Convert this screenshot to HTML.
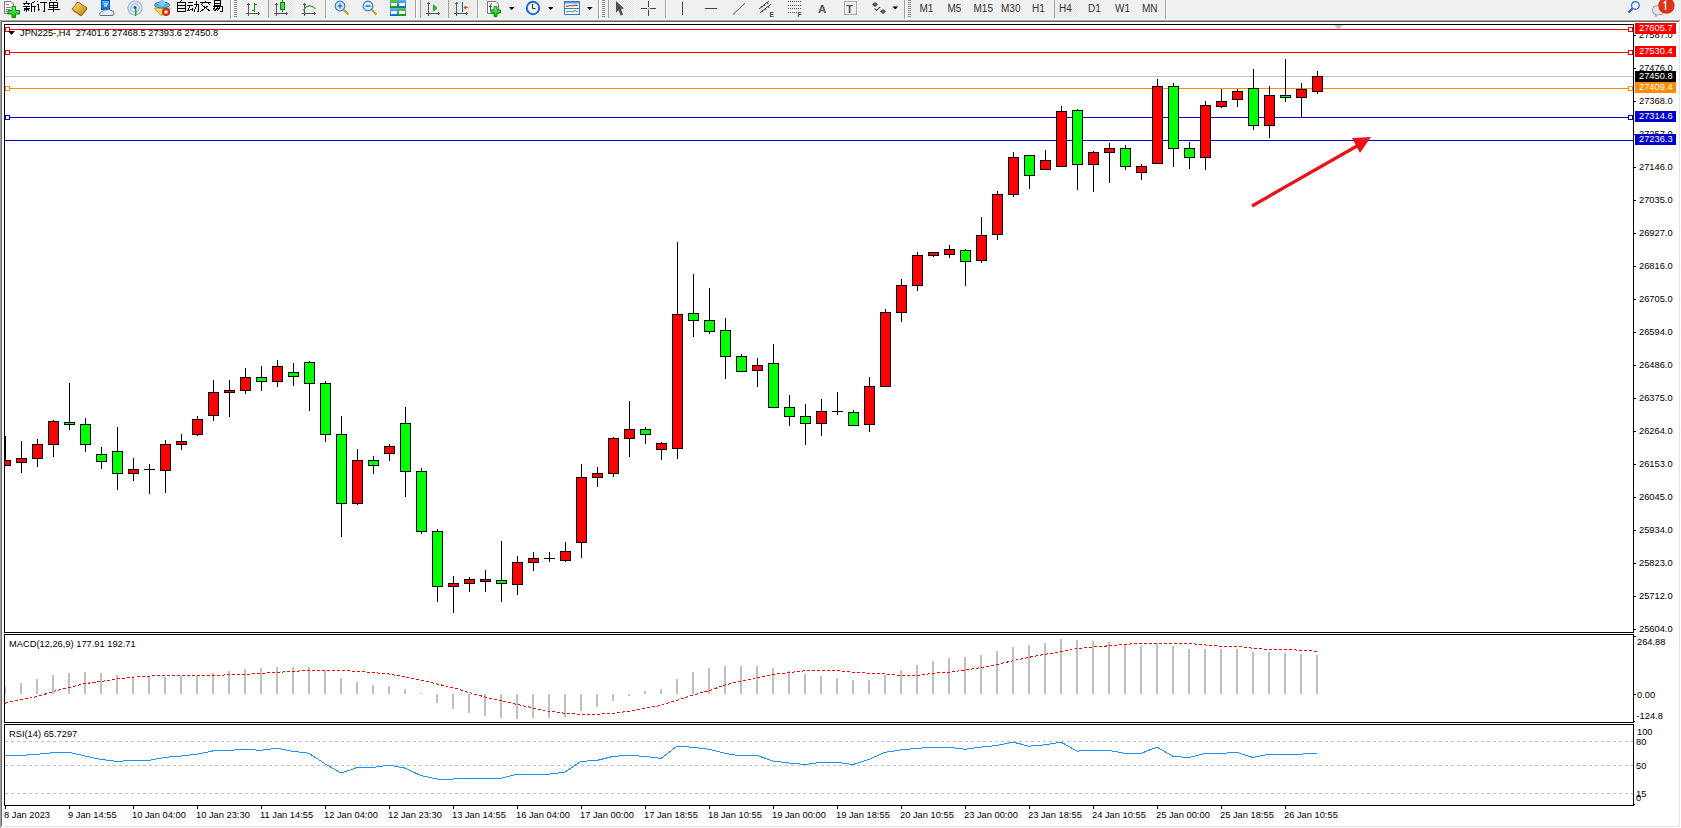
<!DOCTYPE html>
<html><head><meta charset="utf-8"><title>JPN225 H4</title>
<style>
html,body{margin:0;padding:0;}
body{width:1681px;height:828px;overflow:hidden;background:#f0f0f0;position:relative;font-family:"Liberation Sans",sans-serif;}
svg{position:absolute;left:0;top:0;}
.t{font-family:"Liberation Sans",sans-serif;font-size:9.7px;fill:#000;white-space:pre;}
.tb{font-family:"Liberation Sans",sans-serif;font-size:10px;fill:#202020;}
</style></head><body>

<svg width="1681" height="828" viewBox="0 0 1681 828">
<g shape-rendering="crispEdges">
<rect x="0" y="19" width="1681" height="809" fill="#ffffff"/>
<rect x="0" y="19" width="1681" height="1" fill="#f8f8f8"/>
<rect x="0" y="20" width="1680" height="1" fill="#a0a0a0"/>
<rect x="1" y="21" width="1679" height="1" fill="#696969"/>
<rect x="0" y="20" width="1" height="808" fill="#a0a0a0"/>
<rect x="1" y="21" width="1" height="806" fill="#696969"/>
<rect x="1679" y="21" width="1" height="806" fill="#e3e3e3"/>
<rect x="1" y="826" width="1679" height="1" fill="#e3e3e3"/>
<defs><clipPath id="cm"><rect x="5" y="25" width="1628" height="607"/></clipPath><clipPath id="cmacd"><rect x="5" y="635" width="1628" height="87"/></clipPath><clipPath id="crsi"><rect x="5" y="725" width="1628" height="80"/></clipPath></defs>
<g clip-path="url(#cm)">
</g>
</g>
<polygon points="1334,25 1343,25 1339,29 1338,29" fill="#c0c0c0"/>
<g shape-rendering="crispEdges" clip-path="url(#cm)">
<rect x="5" y="76" width="1628" height="1" fill="#c0c0c0"/>
<rect x="5" y="29" width="1628" height="1" fill="#ff0000"/>
<rect x="5.5" y="27.5" width="4" height="4" fill="#fff" stroke="#ff0000" stroke-width="1"/>
<rect x="1628.5" y="27.5" width="4" height="4" fill="#fff" stroke="#ff0000" stroke-width="1"/>
<rect x="5" y="52" width="1628" height="1" fill="#ff0000"/>
<rect x="5.5" y="50.5" width="4" height="4" fill="#fff" stroke="#ff0000" stroke-width="1"/>
<rect x="1628.5" y="50.5" width="4" height="4" fill="#fff" stroke="#ff0000" stroke-width="1"/>
<rect x="5" y="88" width="1628" height="1" fill="#ff8c00"/>
<rect x="5.5" y="86.5" width="4" height="4" fill="#fff" stroke="#ff8c00" stroke-width="1"/>
<rect x="1628.5" y="86.5" width="4" height="4" fill="#fff" stroke="#ff8c00" stroke-width="1"/>
<rect x="5" y="117" width="1628" height="1" fill="#0000cd"/>
<rect x="5.5" y="115.5" width="4" height="4" fill="#fff" stroke="#0000cd" stroke-width="1"/>
<rect x="1628.5" y="115.5" width="4" height="4" fill="#fff" stroke="#0000cd" stroke-width="1"/>
<rect x="5" y="140" width="1628" height="1" fill="#0000cd"/>
<rect x="5" y="436" width="1" height="24" fill="#000"/>
<rect x="0" y="460" width="11" height="6" fill="#000"/>
<rect x="1" y="461" width="9" height="4" fill="#ff0000"/>
<rect x="21" y="441" width="1" height="17" fill="#000"/>
<rect x="21" y="463" width="1" height="10" fill="#000"/>
<rect x="16" y="458" width="11" height="5" fill="#000"/>
<rect x="17" y="459" width="9" height="3" fill="#ff0000"/>
<rect x="37" y="439" width="1" height="5" fill="#000"/>
<rect x="37" y="459" width="1" height="8" fill="#000"/>
<rect x="32" y="444" width="11" height="15" fill="#000"/>
<rect x="33" y="445" width="9" height="13" fill="#ff0000"/>
<rect x="53" y="420" width="1" height="1" fill="#000"/>
<rect x="53" y="445" width="1" height="12" fill="#000"/>
<rect x="48" y="421" width="11" height="24" fill="#000"/>
<rect x="49" y="422" width="9" height="22" fill="#ff0000"/>
<rect x="69" y="383" width="1" height="39" fill="#000"/>
<rect x="69" y="425" width="1" height="5" fill="#000"/>
<rect x="64" y="422" width="11" height="3" fill="#000"/>
<rect x="65" y="423" width="9" height="1" fill="#00ff00"/>
<rect x="85" y="418" width="1" height="6" fill="#000"/>
<rect x="85" y="445" width="1" height="7" fill="#000"/>
<rect x="80" y="424" width="11" height="21" fill="#000"/>
<rect x="81" y="425" width="9" height="19" fill="#00ff00"/>
<rect x="101" y="447" width="1" height="7" fill="#000"/>
<rect x="101" y="462" width="1" height="7" fill="#000"/>
<rect x="96" y="454" width="11" height="8" fill="#000"/>
<rect x="97" y="455" width="9" height="6" fill="#00ff00"/>
<rect x="117" y="427" width="1" height="24" fill="#000"/>
<rect x="117" y="474" width="1" height="16" fill="#000"/>
<rect x="112" y="451" width="11" height="23" fill="#000"/>
<rect x="113" y="452" width="9" height="21" fill="#00ff00"/>
<rect x="133" y="458" width="1" height="11" fill="#000"/>
<rect x="133" y="474" width="1" height="7" fill="#000"/>
<rect x="128" y="469" width="11" height="5" fill="#000"/>
<rect x="129" y="470" width="9" height="3" fill="#ff0000"/>
<rect x="149" y="464" width="1" height="5" fill="#000"/>
<rect x="149" y="469" width="1" height="25" fill="#000"/>
<rect x="144" y="469" width="11" height="1" fill="#000"/>
<rect x="165" y="440" width="1" height="4" fill="#000"/>
<rect x="165" y="471" width="1" height="22" fill="#000"/>
<rect x="160" y="444" width="11" height="27" fill="#000"/>
<rect x="161" y="445" width="9" height="25" fill="#ff0000"/>
<rect x="181" y="434" width="1" height="7" fill="#000"/>
<rect x="181" y="445" width="1" height="5" fill="#000"/>
<rect x="176" y="441" width="11" height="4" fill="#000"/>
<rect x="177" y="442" width="9" height="2" fill="#ff0000"/>
<rect x="197" y="416" width="1" height="3" fill="#000"/>
<rect x="197" y="435" width="1" height="1" fill="#000"/>
<rect x="192" y="419" width="11" height="16" fill="#000"/>
<rect x="193" y="420" width="9" height="14" fill="#ff0000"/>
<rect x="213" y="380" width="1" height="12" fill="#000"/>
<rect x="213" y="416" width="1" height="5" fill="#000"/>
<rect x="208" y="392" width="11" height="24" fill="#000"/>
<rect x="209" y="393" width="9" height="22" fill="#ff0000"/>
<rect x="229" y="380" width="1" height="10" fill="#000"/>
<rect x="229" y="393" width="1" height="24" fill="#000"/>
<rect x="224" y="390" width="11" height="3" fill="#000"/>
<rect x="225" y="391" width="9" height="1" fill="#ff0000"/>
<rect x="245" y="368" width="1" height="9" fill="#000"/>
<rect x="245" y="391" width="1" height="3" fill="#000"/>
<rect x="240" y="377" width="11" height="14" fill="#000"/>
<rect x="241" y="378" width="9" height="12" fill="#ff0000"/>
<rect x="261" y="366" width="1" height="11" fill="#000"/>
<rect x="261" y="382" width="1" height="9" fill="#000"/>
<rect x="256" y="377" width="11" height="5" fill="#000"/>
<rect x="257" y="378" width="9" height="3" fill="#00ff00"/>
<rect x="277" y="360" width="1" height="6" fill="#000"/>
<rect x="277" y="382" width="1" height="5" fill="#000"/>
<rect x="272" y="366" width="11" height="16" fill="#000"/>
<rect x="273" y="367" width="9" height="14" fill="#ff0000"/>
<rect x="293" y="363" width="1" height="9" fill="#000"/>
<rect x="293" y="377" width="1" height="9" fill="#000"/>
<rect x="288" y="372" width="11" height="5" fill="#000"/>
<rect x="289" y="373" width="9" height="3" fill="#00ff00"/>
<rect x="309" y="361" width="1" height="1" fill="#000"/>
<rect x="309" y="384" width="1" height="27" fill="#000"/>
<rect x="304" y="362" width="11" height="22" fill="#000"/>
<rect x="305" y="363" width="9" height="20" fill="#00ff00"/>
<rect x="325" y="381" width="1" height="2" fill="#000"/>
<rect x="325" y="435" width="1" height="7" fill="#000"/>
<rect x="320" y="383" width="11" height="52" fill="#000"/>
<rect x="321" y="384" width="9" height="50" fill="#00ff00"/>
<rect x="341" y="416" width="1" height="18" fill="#000"/>
<rect x="341" y="504" width="1" height="33" fill="#000"/>
<rect x="336" y="434" width="11" height="70" fill="#000"/>
<rect x="337" y="435" width="9" height="68" fill="#00ff00"/>
<rect x="357" y="449" width="1" height="11" fill="#000"/>
<rect x="357" y="504" width="1" height="1" fill="#000"/>
<rect x="352" y="460" width="11" height="44" fill="#000"/>
<rect x="353" y="461" width="9" height="42" fill="#ff0000"/>
<rect x="373" y="456" width="1" height="4" fill="#000"/>
<rect x="373" y="466" width="1" height="8" fill="#000"/>
<rect x="368" y="460" width="11" height="6" fill="#000"/>
<rect x="369" y="461" width="9" height="4" fill="#00ff00"/>
<rect x="389" y="444" width="1" height="2" fill="#000"/>
<rect x="389" y="454" width="1" height="7" fill="#000"/>
<rect x="384" y="446" width="11" height="8" fill="#000"/>
<rect x="385" y="447" width="9" height="6" fill="#ff0000"/>
<rect x="405" y="407" width="1" height="16" fill="#000"/>
<rect x="405" y="472" width="1" height="25" fill="#000"/>
<rect x="400" y="423" width="11" height="49" fill="#000"/>
<rect x="401" y="424" width="9" height="47" fill="#00ff00"/>
<rect x="421" y="468" width="1" height="3" fill="#000"/>
<rect x="421" y="532" width="1" height="2" fill="#000"/>
<rect x="416" y="471" width="11" height="61" fill="#000"/>
<rect x="417" y="472" width="9" height="59" fill="#00ff00"/>
<rect x="437" y="529" width="1" height="2" fill="#000"/>
<rect x="437" y="587" width="1" height="15" fill="#000"/>
<rect x="432" y="531" width="11" height="56" fill="#000"/>
<rect x="433" y="532" width="9" height="54" fill="#00ff00"/>
<rect x="453" y="576" width="1" height="7" fill="#000"/>
<rect x="453" y="587" width="1" height="26" fill="#000"/>
<rect x="448" y="583" width="11" height="4" fill="#000"/>
<rect x="449" y="584" width="9" height="2" fill="#ff0000"/>
<rect x="469" y="577" width="1" height="2" fill="#000"/>
<rect x="469" y="584" width="1" height="8" fill="#000"/>
<rect x="464" y="579" width="11" height="5" fill="#000"/>
<rect x="465" y="580" width="9" height="3" fill="#ff0000"/>
<rect x="485" y="570" width="1" height="9" fill="#000"/>
<rect x="485" y="582" width="1" height="10" fill="#000"/>
<rect x="480" y="579" width="11" height="3" fill="#000"/>
<rect x="481" y="580" width="9" height="1" fill="#ff0000"/>
<rect x="501" y="541" width="1" height="39" fill="#000"/>
<rect x="501" y="584" width="1" height="18" fill="#000"/>
<rect x="496" y="580" width="11" height="4" fill="#000"/>
<rect x="497" y="581" width="9" height="2" fill="#00ff00"/>
<rect x="517" y="556" width="1" height="6" fill="#000"/>
<rect x="517" y="585" width="1" height="10" fill="#000"/>
<rect x="512" y="562" width="11" height="23" fill="#000"/>
<rect x="513" y="563" width="9" height="21" fill="#ff0000"/>
<rect x="533" y="552" width="1" height="6" fill="#000"/>
<rect x="533" y="563" width="1" height="8" fill="#000"/>
<rect x="528" y="558" width="11" height="5" fill="#000"/>
<rect x="529" y="559" width="9" height="3" fill="#ff0000"/>
<rect x="549" y="552" width="1" height="6" fill="#000"/>
<rect x="549" y="558" width="1" height="4" fill="#000"/>
<rect x="544" y="558" width="11" height="1" fill="#000"/>
<rect x="565" y="542" width="1" height="9" fill="#000"/>
<rect x="565" y="561" width="1" height="1" fill="#000"/>
<rect x="560" y="551" width="11" height="10" fill="#000"/>
<rect x="561" y="552" width="9" height="8" fill="#ff0000"/>
<rect x="581" y="464" width="1" height="13" fill="#000"/>
<rect x="581" y="543" width="1" height="15" fill="#000"/>
<rect x="576" y="477" width="11" height="66" fill="#000"/>
<rect x="577" y="478" width="9" height="64" fill="#ff0000"/>
<rect x="597" y="467" width="1" height="6" fill="#000"/>
<rect x="597" y="478" width="1" height="9" fill="#000"/>
<rect x="592" y="473" width="11" height="5" fill="#000"/>
<rect x="593" y="474" width="9" height="3" fill="#ff0000"/>
<rect x="613" y="437" width="1" height="1" fill="#000"/>
<rect x="613" y="474" width="1" height="3" fill="#000"/>
<rect x="608" y="438" width="11" height="36" fill="#000"/>
<rect x="609" y="439" width="9" height="34" fill="#ff0000"/>
<rect x="629" y="401" width="1" height="28" fill="#000"/>
<rect x="629" y="439" width="1" height="18" fill="#000"/>
<rect x="624" y="429" width="11" height="10" fill="#000"/>
<rect x="625" y="430" width="9" height="8" fill="#ff0000"/>
<rect x="645" y="427" width="1" height="2" fill="#000"/>
<rect x="645" y="435" width="1" height="9" fill="#000"/>
<rect x="640" y="429" width="11" height="6" fill="#000"/>
<rect x="641" y="430" width="9" height="4" fill="#00ff00"/>
<rect x="661" y="442" width="1" height="1" fill="#000"/>
<rect x="661" y="450" width="1" height="10" fill="#000"/>
<rect x="656" y="443" width="11" height="7" fill="#000"/>
<rect x="657" y="444" width="9" height="5" fill="#ff0000"/>
<rect x="677" y="242" width="1" height="72" fill="#000"/>
<rect x="677" y="449" width="1" height="10" fill="#000"/>
<rect x="672" y="314" width="11" height="135" fill="#000"/>
<rect x="673" y="315" width="9" height="133" fill="#ff0000"/>
<rect x="693" y="274" width="1" height="39" fill="#000"/>
<rect x="693" y="321" width="1" height="16" fill="#000"/>
<rect x="688" y="313" width="11" height="8" fill="#000"/>
<rect x="689" y="314" width="9" height="6" fill="#00ff00"/>
<rect x="709" y="288" width="1" height="32" fill="#000"/>
<rect x="709" y="332" width="1" height="2" fill="#000"/>
<rect x="704" y="320" width="11" height="12" fill="#000"/>
<rect x="705" y="321" width="9" height="10" fill="#00ff00"/>
<rect x="725" y="318" width="1" height="12" fill="#000"/>
<rect x="725" y="357" width="1" height="22" fill="#000"/>
<rect x="720" y="330" width="11" height="27" fill="#000"/>
<rect x="721" y="331" width="9" height="25" fill="#00ff00"/>
<rect x="741" y="354" width="1" height="2" fill="#000"/>
<rect x="736" y="356" width="11" height="16" fill="#000"/>
<rect x="737" y="357" width="9" height="14" fill="#00ff00"/>
<rect x="757" y="358" width="1" height="7" fill="#000"/>
<rect x="757" y="371" width="1" height="16" fill="#000"/>
<rect x="752" y="365" width="11" height="6" fill="#000"/>
<rect x="753" y="366" width="9" height="4" fill="#ff0000"/>
<rect x="773" y="344" width="1" height="19" fill="#000"/>
<rect x="768" y="363" width="11" height="45" fill="#000"/>
<rect x="769" y="364" width="9" height="43" fill="#00ff00"/>
<rect x="789" y="395" width="1" height="12" fill="#000"/>
<rect x="789" y="417" width="1" height="9" fill="#000"/>
<rect x="784" y="407" width="11" height="10" fill="#000"/>
<rect x="785" y="408" width="9" height="8" fill="#00ff00"/>
<rect x="805" y="404" width="1" height="12" fill="#000"/>
<rect x="805" y="424" width="1" height="21" fill="#000"/>
<rect x="800" y="416" width="11" height="8" fill="#000"/>
<rect x="801" y="417" width="9" height="6" fill="#00ff00"/>
<rect x="821" y="399" width="1" height="12" fill="#000"/>
<rect x="821" y="424" width="1" height="12" fill="#000"/>
<rect x="816" y="411" width="11" height="13" fill="#000"/>
<rect x="817" y="412" width="9" height="11" fill="#ff0000"/>
<rect x="837" y="392" width="1" height="19" fill="#000"/>
<rect x="837" y="411" width="1" height="4" fill="#000"/>
<rect x="832" y="411" width="11" height="1" fill="#000"/>
<rect x="853" y="410" width="1" height="2" fill="#000"/>
<rect x="848" y="412" width="11" height="14" fill="#000"/>
<rect x="849" y="413" width="9" height="12" fill="#00ff00"/>
<rect x="869" y="377" width="1" height="9" fill="#000"/>
<rect x="869" y="425" width="1" height="7" fill="#000"/>
<rect x="864" y="386" width="11" height="39" fill="#000"/>
<rect x="865" y="387" width="9" height="37" fill="#ff0000"/>
<rect x="885" y="309" width="1" height="3" fill="#000"/>
<rect x="880" y="312" width="11" height="75" fill="#000"/>
<rect x="881" y="313" width="9" height="73" fill="#ff0000"/>
<rect x="901" y="279" width="1" height="6" fill="#000"/>
<rect x="901" y="313" width="1" height="9" fill="#000"/>
<rect x="896" y="285" width="11" height="28" fill="#000"/>
<rect x="897" y="286" width="9" height="26" fill="#ff0000"/>
<rect x="917" y="252" width="1" height="3" fill="#000"/>
<rect x="917" y="286" width="1" height="5" fill="#000"/>
<rect x="912" y="255" width="11" height="31" fill="#000"/>
<rect x="913" y="256" width="9" height="29" fill="#ff0000"/>
<rect x="933" y="256" width="1" height="1" fill="#000"/>
<rect x="928" y="252" width="11" height="4" fill="#000"/>
<rect x="929" y="253" width="9" height="2" fill="#ff0000"/>
<rect x="949" y="245" width="1" height="4" fill="#000"/>
<rect x="949" y="255" width="1" height="3" fill="#000"/>
<rect x="944" y="249" width="11" height="6" fill="#000"/>
<rect x="945" y="250" width="9" height="4" fill="#ff0000"/>
<rect x="965" y="249" width="1" height="1" fill="#000"/>
<rect x="965" y="262" width="1" height="24" fill="#000"/>
<rect x="960" y="250" width="11" height="12" fill="#000"/>
<rect x="961" y="251" width="9" height="10" fill="#00ff00"/>
<rect x="981" y="217" width="1" height="18" fill="#000"/>
<rect x="981" y="261" width="1" height="2" fill="#000"/>
<rect x="976" y="235" width="11" height="26" fill="#000"/>
<rect x="977" y="236" width="9" height="24" fill="#ff0000"/>
<rect x="997" y="191" width="1" height="3" fill="#000"/>
<rect x="997" y="235" width="1" height="5" fill="#000"/>
<rect x="992" y="194" width="11" height="41" fill="#000"/>
<rect x="993" y="195" width="9" height="39" fill="#ff0000"/>
<rect x="1013" y="152" width="1" height="5" fill="#000"/>
<rect x="1013" y="195" width="1" height="2" fill="#000"/>
<rect x="1008" y="157" width="11" height="38" fill="#000"/>
<rect x="1009" y="158" width="9" height="36" fill="#ff0000"/>
<rect x="1029" y="176" width="1" height="13" fill="#000"/>
<rect x="1024" y="155" width="11" height="21" fill="#000"/>
<rect x="1025" y="156" width="9" height="19" fill="#00ff00"/>
<rect x="1045" y="150" width="1" height="10" fill="#000"/>
<rect x="1040" y="160" width="11" height="10" fill="#000"/>
<rect x="1041" y="161" width="9" height="8" fill="#ff0000"/>
<rect x="1061" y="106" width="1" height="5" fill="#000"/>
<rect x="1056" y="111" width="11" height="56" fill="#000"/>
<rect x="1057" y="112" width="9" height="54" fill="#ff0000"/>
<rect x="1077" y="109" width="1" height="1" fill="#000"/>
<rect x="1077" y="165" width="1" height="25" fill="#000"/>
<rect x="1072" y="110" width="11" height="55" fill="#000"/>
<rect x="1073" y="111" width="9" height="53" fill="#00ff00"/>
<rect x="1093" y="151" width="1" height="1" fill="#000"/>
<rect x="1093" y="165" width="1" height="27" fill="#000"/>
<rect x="1088" y="152" width="11" height="13" fill="#000"/>
<rect x="1089" y="153" width="9" height="11" fill="#ff0000"/>
<rect x="1109" y="143" width="1" height="5" fill="#000"/>
<rect x="1109" y="153" width="1" height="30" fill="#000"/>
<rect x="1104" y="148" width="11" height="5" fill="#000"/>
<rect x="1105" y="149" width="9" height="3" fill="#ff0000"/>
<rect x="1125" y="145" width="1" height="3" fill="#000"/>
<rect x="1125" y="167" width="1" height="3" fill="#000"/>
<rect x="1120" y="148" width="11" height="19" fill="#000"/>
<rect x="1121" y="149" width="9" height="17" fill="#00ff00"/>
<rect x="1141" y="164" width="1" height="2" fill="#000"/>
<rect x="1141" y="173" width="1" height="7" fill="#000"/>
<rect x="1136" y="166" width="11" height="7" fill="#000"/>
<rect x="1137" y="167" width="9" height="5" fill="#ff0000"/>
<rect x="1157" y="79" width="1" height="7" fill="#000"/>
<rect x="1152" y="86" width="11" height="78" fill="#000"/>
<rect x="1153" y="87" width="9" height="76" fill="#ff0000"/>
<rect x="1173" y="83" width="1" height="3" fill="#000"/>
<rect x="1173" y="149" width="1" height="18" fill="#000"/>
<rect x="1168" y="86" width="11" height="63" fill="#000"/>
<rect x="1169" y="87" width="9" height="61" fill="#00ff00"/>
<rect x="1189" y="142" width="1" height="6" fill="#000"/>
<rect x="1189" y="158" width="1" height="11" fill="#000"/>
<rect x="1184" y="148" width="11" height="10" fill="#000"/>
<rect x="1185" y="149" width="9" height="8" fill="#00ff00"/>
<rect x="1205" y="101" width="1" height="4" fill="#000"/>
<rect x="1205" y="158" width="1" height="12" fill="#000"/>
<rect x="1200" y="105" width="11" height="53" fill="#000"/>
<rect x="1201" y="106" width="9" height="51" fill="#ff0000"/>
<rect x="1221" y="89" width="1" height="12" fill="#000"/>
<rect x="1221" y="107" width="1" height="1" fill="#000"/>
<rect x="1216" y="101" width="11" height="6" fill="#000"/>
<rect x="1217" y="102" width="9" height="4" fill="#ff0000"/>
<rect x="1237" y="89" width="1" height="2" fill="#000"/>
<rect x="1237" y="100" width="1" height="7" fill="#000"/>
<rect x="1232" y="91" width="11" height="9" fill="#000"/>
<rect x="1233" y="92" width="9" height="7" fill="#ff0000"/>
<rect x="1253" y="69" width="1" height="19" fill="#000"/>
<rect x="1253" y="126" width="1" height="4" fill="#000"/>
<rect x="1248" y="88" width="11" height="38" fill="#000"/>
<rect x="1249" y="89" width="9" height="36" fill="#00ff00"/>
<rect x="1269" y="86" width="1" height="9" fill="#000"/>
<rect x="1269" y="126" width="1" height="12" fill="#000"/>
<rect x="1264" y="95" width="11" height="31" fill="#000"/>
<rect x="1265" y="96" width="9" height="29" fill="#ff0000"/>
<rect x="1285" y="59" width="1" height="36" fill="#000"/>
<rect x="1285" y="98" width="1" height="4" fill="#000"/>
<rect x="1280" y="95" width="11" height="3" fill="#000"/>
<rect x="1281" y="96" width="9" height="1" fill="#00ff00"/>
<rect x="1301" y="83" width="1" height="6" fill="#000"/>
<rect x="1301" y="98" width="1" height="19" fill="#000"/>
<rect x="1296" y="89" width="11" height="9" fill="#000"/>
<rect x="1297" y="90" width="9" height="7" fill="#ff0000"/>
<rect x="1317" y="71" width="1" height="5" fill="#000"/>
<rect x="1317" y="92" width="1" height="2" fill="#000"/>
<rect x="1312" y="76" width="11" height="16" fill="#000"/>
<rect x="1313" y="77" width="9" height="14" fill="#ff0000"/>
</g>
<polygon points="8,31 15,31 11.5,35" fill="#000"/>
<text class="t" transform="translate(20 35.8) scale(0.96 1)">JPN225-,H4  27401.6 27468.5 27393.6 27450.8</text>
<line x1="1252" y1="206" x2="1357" y2="146" stroke="#e8141c" stroke-width="3.3"/>
<polygon points="1352,138 1371,137 1360,153" fill="#e8141c"/>
<g shape-rendering="crispEdges" clip-path="url(#cmacd)">
<rect x="4" y="686" width="2" height="8" fill="#c0c0c0"/>
<rect x="20" y="683" width="2" height="11" fill="#c0c0c0"/>
<rect x="36" y="679" width="2" height="15" fill="#c0c0c0"/>
<rect x="52" y="675" width="2" height="19" fill="#c0c0c0"/>
<rect x="68" y="673" width="2" height="21" fill="#c0c0c0"/>
<rect x="84" y="672" width="2" height="22" fill="#c0c0c0"/>
<rect x="100" y="673" width="2" height="21" fill="#c0c0c0"/>
<rect x="116" y="675" width="2" height="19" fill="#c0c0c0"/>
<rect x="132" y="676" width="2" height="18" fill="#c0c0c0"/>
<rect x="148" y="676" width="2" height="18" fill="#c0c0c0"/>
<rect x="164" y="677" width="2" height="17" fill="#c0c0c0"/>
<rect x="180" y="676" width="2" height="18" fill="#c0c0c0"/>
<rect x="196" y="676" width="2" height="18" fill="#c0c0c0"/>
<rect x="212" y="673" width="2" height="21" fill="#c0c0c0"/>
<rect x="228" y="671" width="2" height="23" fill="#c0c0c0"/>
<rect x="244" y="669" width="2" height="25" fill="#c0c0c0"/>
<rect x="260" y="668" width="2" height="26" fill="#c0c0c0"/>
<rect x="276" y="667" width="2" height="27" fill="#c0c0c0"/>
<rect x="292" y="667" width="2" height="27" fill="#c0c0c0"/>
<rect x="308" y="667" width="2" height="27" fill="#c0c0c0"/>
<rect x="324" y="670" width="2" height="24" fill="#c0c0c0"/>
<rect x="340" y="678" width="2" height="16" fill="#c0c0c0"/>
<rect x="356" y="682" width="2" height="12" fill="#c0c0c0"/>
<rect x="372" y="685" width="2" height="9" fill="#c0c0c0"/>
<rect x="388" y="686" width="2" height="8" fill="#c0c0c0"/>
<rect x="404" y="689" width="2" height="5" fill="#c0c0c0"/>
<rect x="420" y="693" width="2" height="1" fill="#c0c0c0"/>
<rect x="436" y="694" width="2" height="9" fill="#c0c0c0"/>
<rect x="452" y="694" width="2" height="15" fill="#c0c0c0"/>
<rect x="468" y="694" width="2" height="19" fill="#c0c0c0"/>
<rect x="484" y="694" width="2" height="22" fill="#c0c0c0"/>
<rect x="500" y="694" width="2" height="24" fill="#c0c0c0"/>
<rect x="516" y="694" width="2" height="25" fill="#c0c0c0"/>
<rect x="532" y="694" width="2" height="24" fill="#c0c0c0"/>
<rect x="548" y="694" width="2" height="24" fill="#c0c0c0"/>
<rect x="564" y="694" width="2" height="23" fill="#c0c0c0"/>
<rect x="580" y="694" width="2" height="17" fill="#c0c0c0"/>
<rect x="596" y="694" width="2" height="13" fill="#c0c0c0"/>
<rect x="612" y="694" width="2" height="7" fill="#c0c0c0"/>
<rect x="628" y="694" width="2" height="2" fill="#c0c0c0"/>
<rect x="644" y="691" width="2" height="3" fill="#c0c0c0"/>
<rect x="660" y="689" width="2" height="5" fill="#c0c0c0"/>
<rect x="676" y="679" width="2" height="15" fill="#c0c0c0"/>
<rect x="692" y="672" width="2" height="22" fill="#c0c0c0"/>
<rect x="708" y="668" width="2" height="26" fill="#c0c0c0"/>
<rect x="724" y="666" width="2" height="28" fill="#c0c0c0"/>
<rect x="740" y="666" width="2" height="28" fill="#c0c0c0"/>
<rect x="756" y="666" width="2" height="28" fill="#c0c0c0"/>
<rect x="772" y="668" width="2" height="26" fill="#c0c0c0"/>
<rect x="788" y="671" width="2" height="23" fill="#c0c0c0"/>
<rect x="804" y="674" width="2" height="20" fill="#c0c0c0"/>
<rect x="820" y="676" width="2" height="18" fill="#c0c0c0"/>
<rect x="836" y="678" width="2" height="16" fill="#c0c0c0"/>
<rect x="852" y="680" width="2" height="14" fill="#c0c0c0"/>
<rect x="868" y="680" width="2" height="14" fill="#c0c0c0"/>
<rect x="884" y="675" width="2" height="19" fill="#c0c0c0"/>
<rect x="900" y="670" width="2" height="24" fill="#c0c0c0"/>
<rect x="916" y="665" width="2" height="29" fill="#c0c0c0"/>
<rect x="932" y="661" width="2" height="33" fill="#c0c0c0"/>
<rect x="948" y="658" width="2" height="36" fill="#c0c0c0"/>
<rect x="964" y="657" width="2" height="37" fill="#c0c0c0"/>
<rect x="980" y="655" width="2" height="39" fill="#c0c0c0"/>
<rect x="996" y="651" width="2" height="43" fill="#c0c0c0"/>
<rect x="1012" y="647" width="2" height="47" fill="#c0c0c0"/>
<rect x="1028" y="645" width="2" height="49" fill="#c0c0c0"/>
<rect x="1044" y="643" width="2" height="51" fill="#c0c0c0"/>
<rect x="1060" y="639" width="2" height="55" fill="#c0c0c0"/>
<rect x="1076" y="640" width="2" height="54" fill="#c0c0c0"/>
<rect x="1092" y="641" width="2" height="53" fill="#c0c0c0"/>
<rect x="1108" y="642" width="2" height="52" fill="#c0c0c0"/>
<rect x="1124" y="644" width="2" height="50" fill="#c0c0c0"/>
<rect x="1140" y="646" width="2" height="48" fill="#c0c0c0"/>
<rect x="1156" y="644" width="2" height="50" fill="#c0c0c0"/>
<rect x="1172" y="646" width="2" height="48" fill="#c0c0c0"/>
<rect x="1188" y="649" width="2" height="45" fill="#c0c0c0"/>
<rect x="1204" y="649" width="2" height="45" fill="#c0c0c0"/>
<rect x="1220" y="649" width="2" height="45" fill="#c0c0c0"/>
<rect x="1236" y="649" width="2" height="45" fill="#c0c0c0"/>
<rect x="1252" y="652" width="2" height="42" fill="#c0c0c0"/>
<rect x="1268" y="652" width="2" height="42" fill="#c0c0c0"/>
<rect x="1284" y="653" width="2" height="41" fill="#c0c0c0"/>
<rect x="1300" y="654" width="2" height="40" fill="#c0c0c0"/>
<rect x="1316" y="655" width="2" height="39" fill="#c0c0c0"/>
</g>
<g clip-path="url(#cmacd)"><polyline points="5,703.2 21,699.7 37,696.7 53,691.6 69,687.6 85,683.6 101,681.5 117,678.9 133,677.1 149,676.1 165,675.3 181,675.3 197,675.3 213,675.3 229,674.9 245,674.5 261,673.4 277,672.4 293,671.4 309,670.4 325,670.4 341,670.4 357,671.4 373,672.5 389,674 405,677 421,680.2 437,684 453,687.6 469,692.5 485,697 501,700.8 517,704.4 533,708 549,711.3 565,713.2 581,714.3 597,714.3 613,713.2 629,711.3 645,708.3 661,705.4 677,700.2 693,695 709,690.7 725,684.9 741,681.3 757,677.5 773,674.6 789,672.5 805,670.8 821,670.4 837,670.4 853,672.2 869,673.3 885,674 901,675.4 917,675.4 933,673.3 949,672.2 965,670.1 981,667.5 997,664.5 1013,660.7 1029,657.3 1045,654.3 1061,651.6 1077,648.7 1093,647.1 1109,645.8 1125,644.2 1141,643.5 1157,643.5 1173,643.5 1189,643.5 1205,644.9 1221,646.4 1237,646.4 1253,648.2 1269,649.4 1285,649.4 1301,650.3 1317,651.2" fill="none" stroke="#ff0000" stroke-width="1" stroke-dasharray="3,2" shape-rendering="crispEdges"/></g>
<text class="t" transform="translate(9 647) scale(0.96 1)">MACD(12,26,9) 177.91 192.71</text>
<g shape-rendering="crispEdges">
<line x1="5" y1="741.5" x2="1633" y2="741.5" stroke="#c0c0c0" stroke-width="1" stroke-dasharray="3,3"/>
<line x1="5" y1="765.5" x2="1633" y2="765.5" stroke="#c0c0c0" stroke-width="1" stroke-dasharray="3,3"/>
<line x1="5" y1="793.5" x2="1633" y2="793.5" stroke="#c0c0c0" stroke-width="1" stroke-dasharray="3,3"/>
</g>
<g clip-path="url(#crsi)"><polyline points="5,755.4 21,755.4 37,754.3 53,752.7 69,752.3 85,756 101,759.4 117,761.4 133,760.4 149,760.4 165,757.4 181,756 197,754.3 213,750.9 229,750.3 245,749.3 261,750.3 277,748.3 293,751.3 309,753.3 325,763.8 341,773 357,767.5 373,767.5 389,765.1 405,768.1 421,775.6 437,779 453,779 469,778.6 485,778.2 501,778.2 517,774.2 533,774.2 549,774.2 565,772.1 581,761.4 597,760.4 613,756.4 629,755.4 645,756.4 661,758.4 677,746.2 693,747.3 709,749.3 725,753.3 741,756 757,755.4 773,761 789,763 805,764.5 821,762.4 837,762.4 853,764.5 869,759.4 885,752.3 901,749.9 917,748.3 933,747.3 949,747.3 965,749.3 981,747.1 997,745.5 1013,742.1 1029,746.2 1045,744.8 1061,742.1 1077,751.1 1093,750.4 1109,750.4 1125,753.4 1141,753.4 1157,747.1 1173,756.3 1189,757.5 1205,753.4 1221,753.4 1237,752.3 1253,757.5 1269,754.1 1285,754.1 1301,754.1 1317,753.4" fill="none" stroke="#1e90ff" stroke-width="1" shape-rendering="crispEdges"/></g>
<text class="t" transform="translate(9 737) scale(0.96 1)">RSI(14) 65.7297</text>
<g shape-rendering="crispEdges">
<rect x="4" y="24" width="1630" height="1" fill="#000"/>
<rect x="4" y="632" width="1630" height="1" fill="#000"/>
<rect x="4" y="24" width="1" height="609" fill="#000"/>
<rect x="1633" y="24" width="1" height="609" fill="#000"/>
<rect x="4" y="634" width="1630" height="1" fill="#000"/>
<rect x="4" y="722" width="1630" height="1" fill="#000"/>
<rect x="4" y="634" width="1" height="89" fill="#000"/>
<rect x="1633" y="634" width="1" height="89" fill="#000"/>
<rect x="4" y="724" width="1630" height="1" fill="#000"/>
<rect x="4" y="805" width="1630" height="1" fill="#000"/>
<rect x="4" y="724" width="1" height="82" fill="#000"/>
<rect x="1633" y="724" width="1" height="82" fill="#000"/>
<rect x="1634" y="35" width="2" height="1" fill="#000"/>
<rect x="1634" y="68" width="2" height="1" fill="#000"/>
<rect x="1634" y="101" width="2" height="1" fill="#000"/>
<rect x="1634" y="134" width="2" height="1" fill="#000"/>
<rect x="1634" y="167" width="2" height="1" fill="#000"/>
<rect x="1634" y="200" width="2" height="1" fill="#000"/>
<rect x="1634" y="233" width="2" height="1" fill="#000"/>
<rect x="1634" y="266" width="2" height="1" fill="#000"/>
<rect x="1634" y="299" width="2" height="1" fill="#000"/>
<rect x="1634" y="332" width="2" height="1" fill="#000"/>
<rect x="1634" y="365" width="2" height="1" fill="#000"/>
<rect x="1634" y="398" width="2" height="1" fill="#000"/>
<rect x="1634" y="431" width="2" height="1" fill="#000"/>
<rect x="1634" y="464" width="2" height="1" fill="#000"/>
<rect x="1634" y="497" width="2" height="1" fill="#000"/>
<rect x="1634" y="530" width="2" height="1" fill="#000"/>
<rect x="1634" y="563" width="2" height="1" fill="#000"/>
<rect x="1634" y="596" width="2" height="1" fill="#000"/>
<rect x="1634" y="629" width="2" height="1" fill="#000"/>
</g>
<text class="t" transform="translate(1639 38.2) scale(0.96 1)">27587.0</text>
<text class="t" transform="translate(1639 71.2) scale(0.96 1)">27476.0</text>
<text class="t" transform="translate(1639 104.2) scale(0.96 1)">27368.0</text>
<text class="t" transform="translate(1639 137.2) scale(0.96 1)">27257.0</text>
<text class="t" transform="translate(1639 170.2) scale(0.96 1)">27146.0</text>
<text class="t" transform="translate(1639 203.2) scale(0.96 1)">27035.0</text>
<text class="t" transform="translate(1639 236.2) scale(0.96 1)">26927.0</text>
<text class="t" transform="translate(1639 269.2) scale(0.96 1)">26816.0</text>
<text class="t" transform="translate(1639 302.2) scale(0.96 1)">26705.0</text>
<text class="t" transform="translate(1639 335.2) scale(0.96 1)">26594.0</text>
<text class="t" transform="translate(1639 368.2) scale(0.96 1)">26486.0</text>
<text class="t" transform="translate(1639 401.2) scale(0.96 1)">26375.0</text>
<text class="t" transform="translate(1639 434.2) scale(0.96 1)">26264.0</text>
<text class="t" transform="translate(1639 467.2) scale(0.96 1)">26153.0</text>
<text class="t" transform="translate(1639 500.2) scale(0.96 1)">26045.0</text>
<text class="t" transform="translate(1639 533.2) scale(0.96 1)">25934.0</text>
<text class="t" transform="translate(1639 566.2) scale(0.96 1)">25823.0</text>
<text class="t" transform="translate(1639 599.2) scale(0.96 1)">25712.0</text>
<text class="t" transform="translate(1639 632.2) scale(0.96 1)">25604.0</text>
<rect x="1635" y="23" width="41" height="11" fill="#ff0000" shape-rendering="crispEdges"/>
<text class="t" transform="translate(1639 31.2) scale(0.96 1)" fill="#fff" style="fill:#fff">27605.7</text>
<rect x="1635" y="46" width="41" height="11" fill="#ff0000" shape-rendering="crispEdges"/>
<text class="t" transform="translate(1639 54.2) scale(0.96 1)" fill="#fff" style="fill:#fff">27530.4</text>
<rect x="1635" y="71" width="41" height="11" fill="#000000" shape-rendering="crispEdges"/>
<text class="t" transform="translate(1639 79.2) scale(0.96 1)" fill="#fff" style="fill:#fff">27450.8</text>
<rect x="1635" y="82" width="41" height="11" fill="#ff8c00" shape-rendering="crispEdges"/>
<text class="t" transform="translate(1639 90.2) scale(0.96 1)" fill="#fff" style="fill:#fff">27409.4</text>
<rect x="1635" y="111" width="41" height="11" fill="#0000cd" shape-rendering="crispEdges"/>
<text class="t" transform="translate(1639 119.2) scale(0.96 1)" fill="#fff" style="fill:#fff">27314.6</text>
<rect x="1635" y="134" width="41" height="11" fill="#0000cd" shape-rendering="crispEdges"/>
<text class="t" transform="translate(1639 142.2) scale(0.96 1)" fill="#fff" style="fill:#fff">27236.3</text>
<g shape-rendering="crispEdges">
<rect x="1634" y="636" width="2" height="1" fill="#000"/>
<rect x="1634" y="694" width="2" height="1" fill="#000"/>
<rect x="1634" y="721" width="1" height="1" fill="#000"/>
<rect x="1634" y="804" width="1" height="1" fill="#000"/>
</g>
<text class="t" transform="translate(1637 645) scale(0.96 1)">264.88</text>
<text class="t" transform="translate(1637 698) scale(0.96 1)">0.00</text>
<text class="t" transform="translate(1636.5 719) scale(0.96 1)">-124.8</text>
<text class="t" transform="translate(1637 735) scale(0.96 1)">100</text>
<text class="t" transform="translate(1636 745) scale(0.96 1)">80</text>
<text class="t" transform="translate(1636 769) scale(0.96 1)">50</text>
<text class="t" transform="translate(1636 797) scale(0.96 1)">15</text>
<text class="t" transform="translate(1636 801) scale(0.96 1)">0</text>
<g shape-rendering="crispEdges">
<rect x="5" y="806" width="1" height="3" fill="#000"/>
<rect x="69" y="806" width="1" height="3" fill="#000"/>
<rect x="133" y="806" width="1" height="3" fill="#000"/>
<rect x="197" y="806" width="1" height="3" fill="#000"/>
<rect x="261" y="806" width="1" height="3" fill="#000"/>
<rect x="325" y="806" width="1" height="3" fill="#000"/>
<rect x="389" y="806" width="1" height="3" fill="#000"/>
<rect x="453" y="806" width="1" height="3" fill="#000"/>
<rect x="517" y="806" width="1" height="3" fill="#000"/>
<rect x="581" y="806" width="1" height="3" fill="#000"/>
<rect x="645" y="806" width="1" height="3" fill="#000"/>
<rect x="709" y="806" width="1" height="3" fill="#000"/>
<rect x="773" y="806" width="1" height="3" fill="#000"/>
<rect x="837" y="806" width="1" height="3" fill="#000"/>
<rect x="901" y="806" width="1" height="3" fill="#000"/>
<rect x="965" y="806" width="1" height="3" fill="#000"/>
<rect x="1029" y="806" width="1" height="3" fill="#000"/>
<rect x="1093" y="806" width="1" height="3" fill="#000"/>
<rect x="1157" y="806" width="1" height="3" fill="#000"/>
<rect x="1221" y="806" width="1" height="3" fill="#000"/>
<rect x="1285" y="806" width="1" height="3" fill="#000"/>
</g>
<text class="t" transform="translate(4 818) scale(0.96 1)">8 Jan 2023</text>
<text class="t" transform="translate(68 818) scale(0.96 1)">9 Jan 14:55</text>
<text class="t" transform="translate(132 818) scale(0.96 1)">10 Jan 04:00</text>
<text class="t" transform="translate(196 818) scale(0.96 1)">10 Jan 23:30</text>
<text class="t" transform="translate(260 818) scale(0.96 1)">11 Jan 14:55</text>
<text class="t" transform="translate(324 818) scale(0.96 1)">12 Jan 04:00</text>
<text class="t" transform="translate(388 818) scale(0.96 1)">12 Jan 23:30</text>
<text class="t" transform="translate(452 818) scale(0.96 1)">13 Jan 14:55</text>
<text class="t" transform="translate(516 818) scale(0.96 1)">16 Jan 04:00</text>
<text class="t" transform="translate(580 818) scale(0.96 1)">17 Jan 00:00</text>
<text class="t" transform="translate(644 818) scale(0.96 1)">17 Jan 18:55</text>
<text class="t" transform="translate(708 818) scale(0.96 1)">18 Jan 10:55</text>
<text class="t" transform="translate(772 818) scale(0.96 1)">19 Jan 00:00</text>
<text class="t" transform="translate(836 818) scale(0.96 1)">19 Jan 18:55</text>
<text class="t" transform="translate(900 818) scale(0.96 1)">20 Jan 10:55</text>
<text class="t" transform="translate(964 818) scale(0.96 1)">23 Jan 00:00</text>
<text class="t" transform="translate(1028 818) scale(0.96 1)">23 Jan 18:55</text>
<text class="t" transform="translate(1092 818) scale(0.96 1)">24 Jan 10:55</text>
<text class="t" transform="translate(1156 818) scale(0.96 1)">25 Jan 00:00</text>
<text class="t" transform="translate(1220 818) scale(0.96 1)">25 Jan 18:55</text>
<text class="t" transform="translate(1284 818) scale(0.96 1)">26 Jan 10:55</text>
</svg>

<svg width="1681" height="19" viewBox="0 0 1681 19" style="position:absolute;left:0;top:0">
<defs>
<linearGradient id="gplus" x1="0" y1="0" x2="0" y2="1"><stop offset="0" stop-color="#7dff7d"/><stop offset="1" stop-color="#00b000"/></linearGradient>
<linearGradient id="gbook" x1="0" y1="0" x2="1" y2="1"><stop offset="0" stop-color="#ffe680"/><stop offset="1" stop-color="#c08000"/></linearGradient>
<linearGradient id="gblue" x1="0" y1="0" x2="0" y2="1"><stop offset="0" stop-color="#5ab4ff"/><stop offset="1" stop-color="#0a64d2"/></linearGradient>
<linearGradient id="ggreen" x1="0" y1="0" x2="0" y2="1"><stop offset="0" stop-color="#5cc85c"/><stop offset="1" stop-color="#1e8c1e"/></linearGradient>
<pattern id="dots" width="2" height="2" patternUnits="userSpaceOnUse"><rect width="2" height="2" fill="#f4f4f4"/><rect width="1" height="1" fill="#e4e4e4"/><rect x="1" y="1" width="1" height="1" fill="#e4e4e4"/></pattern>
</defs>
<rect x="0" y="0" width="1681" height="19" fill="#f0f0f0"/>

<!-- new order icon -->
<path d="M4.5 1.5 H11 L13.5 4 V13.5 H4.5 Z" fill="#fdfdfd" stroke="#777" stroke-width="1"/>
<path d="M6 4 H9 M6 7 H11 M6 9 H10 M6 11 H9" stroke="#888" stroke-width="1" shape-rendering="crispEdges"/>
<path d="M12 6.5 h3.5 v4 h4 v3.5 h-4 v3.5 h-3.5 V14 H8 v-3.5 H12 Z" fill="url(#gplus)" stroke="#0a8a0a" stroke-width="1"/>
<!-- 新订单 -->
<g stroke="#000" stroke-width="1" fill="none" shape-rendering="crispEdges">
 <path d="M26.5 1v2 M23 3.5h7 M24.5 4.5l1 1 M28.5 4.5l-1 1 M23 6.5h7 M26.5 6.5v5 M23.5 8.5h6 M25.5 9l-2 2.5 M27.5 9l2 2.5"/>
 <path d="M35 1.5l-3 1.5 M31.5 3v8.5 M31.5 6.5h4.5 M34.5 6.5v5"/>
 <path d="M37.5 1.5l1 1 M37 4.5h2 M38.5 4.5v5.5l1.5-1 M40 2.5h7 M44.5 2.5v8.5 M44.5 11h-2"/>
 <path d="M50.5 0.5l1 1 M56.5 0.5l-1 1 M49.5 2.5h8v5h-8z M49.5 5h8 M53.5 2.5v9 M47.5 9.5h12"/>
</g>
<!-- book -->
<path d="M72 9 L78 2 L87 8 L81 15.5 Z" fill="url(#gbook)" stroke="#9a6200" stroke-width="1"/>
<path d="M73 10.5 L81 16 L87 9" fill="none" stroke="#a06a10" stroke-width="1"/>
<!-- cloud server -->
<rect x="101.5" y="0.5" width="8" height="9" fill="url(#gblue)" stroke="#0a5ab8"/>
<path d="M104 4h4 M104 6h3" stroke="#fff" stroke-width="1"/>
<path d="M100 15.5 Q98.5 13 101.5 12 Q103 9 106.5 10 Q108.5 8.5 111 10.5 Q114.5 11 114 14 Q114 15.5 112 15.5 Z" fill="#e8eef8" stroke="#5a6f98" stroke-width="1"/>
<!-- signal -->
<circle cx="135" cy="8" r="7" fill="none" stroke="#7aa0e0" stroke-width="1.2" opacity="0.8"/>
<circle cx="135" cy="8" r="4.2" fill="none" stroke="#6e9ae0" stroke-width="1.1" opacity="0.8"/>
<path d="M135 8 A7 7 0 0 1 135.5 15" fill="none" stroke="#6cc86c" stroke-width="1.5"/>
<circle cx="135" cy="7.5" r="1.6" fill="#1e50c8"/>
<rect x="135" y="8" width="1.2" height="8" fill="#1ea01e"/>
<!-- auto trade hat -->
<path d="M154.5 8 L170 8 L168 12.5 L161 15.5 Z" fill="#f0d860" stroke="#c09830" stroke-width="1"/>
<ellipse cx="162" cy="5" rx="7.5" ry="3" fill="#60b0e0" stroke="#3080b0" stroke-width="1"/>
<ellipse cx="162" cy="3" rx="3" ry="3" fill="#80c8f0"/>
<circle cx="166" cy="12" r="4" fill="#d82010"/>
<rect x="164.5" y="10.5" width="3" height="3" fill="#fff"/>
<!-- 自动交易 -->
<g stroke="#000" stroke-width="1" fill="none" shape-rendering="crispEdges">
 <path d="M181.5 0.5l-1 1.5 M177.5 2.5h8v9h-8z M177.5 5.5h8 M177.5 8.5h8"/>
 <path d="M188 2.5h5 M187 5.5h6 M190 5.5l-2 5 l5-1 M192 8l1 3 M194 4.5h4.5v6.5h-2 M196.5 1v5l-2.5 5.5"/>
 <path d="M205.5 0.5v1.5 M200 2.5h11 M202.5 3.5l-2 2 M208.5 3.5l2 2 M202.5 5.5l8 6 M208.5 5.5l-8 6"/>
 <path d="M214.5 0.5h6v5h-6z M214.5 3h6 M213 6.5h9v4.5h-2 M215.5 6.5l-2.5 3.5 M218 7.5l-3.5 3.5 M220 7.5l-3 3.5"/>
</g>

<g shape-rendering="crispEdges">
<!-- separators -->
<rect x="230" y="0" width="1" height="19" fill="#a0a0a0"/><rect x="231" y="0" width="1" height="19" fill="#ffffff"/>
<rect x="268" y="0" width="1" height="18" fill="#a0a0a0"/><rect x="269" y="0" width="1" height="18" fill="#ffffff"/>
<rect x="325" y="0" width="1" height="18" fill="#a0a0a0"/><rect x="326" y="0" width="1" height="18" fill="#ffffff"/>
<rect x="415" y="0" width="1" height="18" fill="#a0a0a0"/><rect x="416" y="0" width="1" height="18" fill="#ffffff"/>
<rect x="420" y="0" width="1" height="18" fill="#a0a0a0"/><rect x="421" y="0" width="1" height="18" fill="#ffffff"/>
<rect x="448" y="0" width="1" height="18" fill="#a0a0a0"/><rect x="449" y="0" width="1" height="18" fill="#ffffff"/>
<rect x="477" y="0" width="1" height="18" fill="#a0a0a0"/><rect x="478" y="0" width="1" height="18" fill="#ffffff"/>
<rect x="598" y="0" width="1" height="19" fill="#a0a0a0"/><rect x="599" y="0" width="1" height="19" fill="#ffffff"/>
<rect x="608" y="0" width="1" height="18" fill="#a0a0a0"/><rect x="609" y="0" width="1" height="18" fill="#ffffff"/>
<rect x="665" y="0" width="1" height="18" fill="#a0a0a0"/><rect x="666" y="0" width="1" height="18" fill="#ffffff"/>
<rect x="904" y="0" width="1" height="19" fill="#a0a0a0"/><rect x="905" y="0" width="1" height="19" fill="#ffffff"/>
<rect x="1054" y="0" width="1" height="18" fill="#a0a0a0"/><rect x="1055" y="0" width="1" height="18" fill="#ffffff"/>
</g>
<rect x="1165" y="0" width="1" height="19" fill="#a0a0a0"/><rect x="1166" y="0" width="1" height="19" fill="#ffffff"/>
<!-- grips -->
<g fill="#8c8c8c" shape-rendering="crispEdges">
 <rect x="234" y="0" width="3" height="1"/><rect x="234" y="2" width="3" height="1"/><rect x="234" y="4" width="3" height="1"/><rect x="234" y="6" width="3" height="1"/><rect x="234" y="8" width="3" height="1"/><rect x="234" y="10" width="3" height="1"/><rect x="234" y="12" width="3" height="1"/><rect x="234" y="14" width="3" height="1"/><rect x="234" y="16" width="3" height="1"/>
 <rect x="602" y="0" width="3" height="1"/><rect x="602" y="2" width="3" height="1"/><rect x="602" y="4" width="3" height="1"/><rect x="602" y="6" width="3" height="1"/><rect x="602" y="8" width="3" height="1"/><rect x="602" y="10" width="3" height="1"/><rect x="602" y="12" width="3" height="1"/><rect x="602" y="14" width="3" height="1"/><rect x="602" y="16" width="3" height="1"/>
 <rect x="908" y="0" width="3" height="1"/><rect x="908" y="2" width="3" height="1"/><rect x="908" y="4" width="3" height="1"/><rect x="908" y="6" width="3" height="1"/><rect x="908" y="8" width="3" height="1"/><rect x="908" y="10" width="3" height="1"/><rect x="908" y="12" width="3" height="1"/><rect x="908" y="14" width="3" height="1"/><rect x="908" y="16" width="3" height="1"/>
</g>
<!-- pressed backgrounds -->
<rect x="269" y="0" width="24" height="18" fill="url(#dots)"/>
<rect x="421" y="0" width="24" height="18" fill="url(#dots)"/>
<rect x="449" y="0" width="24" height="18" fill="url(#dots)"/>
<rect x="609" y="0" width="25" height="18" fill="url(#dots)"/>
<rect x="1055" y="0" width="24" height="18" fill="url(#dots)"/>

<!-- axis icons -->
<g fill="#555" shape-rendering="crispEdges">
 <rect x="248" y="3" width="1" height="13"/><rect x="247" y="4" width="3" height="1"/><rect x="246" y="13" width="14" height="1"/><rect x="258" y="12" width="1" height="3"/>
 <rect x="276" y="3" width="1" height="13"/><rect x="275" y="4" width="3" height="1"/><rect x="274" y="13" width="14" height="1"/><rect x="286" y="12" width="1" height="3"/>
 <rect x="304" y="3" width="1" height="13"/><rect x="303" y="4" width="3" height="1"/><rect x="302" y="13" width="14" height="1"/><rect x="314" y="12" width="1" height="3"/>
 <rect x="428" y="2" width="1" height="14"/><rect x="427" y="3" width="3" height="1"/><rect x="426" y="13" width="14" height="1"/><rect x="438" y="12" width="1" height="3"/>
 <rect x="456" y="2" width="1" height="14"/><rect x="455" y="3" width="3" height="1"/><rect x="454" y="13" width="14" height="1"/><rect x="466" y="12" width="1" height="3"/>
</g>
<g fill="#109010" shape-rendering="crispEdges">
 <rect x="254" y="3" width="1" height="9"/><rect x="255" y="4" width="2" height="1"/><rect x="252" y="10" width="2" height="1"/>
 <rect x="282" y="0" width="1" height="12"/>
</g>
<rect x="280.5" y="2.5" width="4" height="7" fill="#40e040" stroke="#108010" stroke-width="1" shape-rendering="crispEdges"/>
<path d="M303 10.5 Q309 2 315.5 9" fill="none" stroke="#30a030" stroke-width="1.1"/>
<path d="M433.5 5 L437 8 L433.5 11 Z" fill="#30c030" stroke="#109010" stroke-width="0.8"/>
<rect x="462" y="2" width="1" height="10" fill="#1060a0" shape-rendering="crispEdges"/>
<path d="M463.5 7.5 L466 5.5 V7 H468 V8 H466 V9.5 Z" fill="#e04000"/>

<!-- zoom in/out -->
<g>
 <line x1="343.5" y1="9.5" x2="348.5" y2="14.5" stroke="#c8a020" stroke-width="2.2"/>
 <circle cx="340" cy="6" r="4.8" fill="#d8ecfc" stroke="#3a7ad0" stroke-width="1.2"/>
 <rect x="337.5" y="5.2" width="5" height="1.6" fill="#3a7ad0"/><rect x="339.2" y="3.5" width="1.6" height="5" fill="#3a7ad0"/>
 <line x1="371.5" y1="9.5" x2="376.5" y2="14.5" stroke="#c8a020" stroke-width="2.2"/>
 <circle cx="368" cy="6" r="4.8" fill="#d8ecfc" stroke="#3a7ad0" stroke-width="1.2"/>
 <rect x="365.5" y="5.2" width="5" height="1.6" fill="#3a7ad0"/>
</g>
<!-- tile -->
<g shape-rendering="crispEdges">
 <rect x="390" y="0" width="8" height="8" fill="url(#ggreen)"/><rect x="398" y="0" width="8" height="8" fill="url(#gblue)"/>
 <rect x="390" y="8" width="8" height="8" fill="url(#gblue)"/><rect x="398" y="8" width="8" height="8" fill="url(#ggreen)"/>
 <rect x="391" y="3" width="6" height="3" fill="#f8f8f8"/><rect x="399" y="3" width="6" height="3" fill="#f8f8f8"/>
 <rect x="391" y="11" width="6" height="3" fill="#f8f8f8"/><rect x="399" y="11" width="6" height="3" fill="#f8f8f8"/>
</g>

<!-- indicators -->
<path d="M487.5 1.5 H496 L498.5 4 V13.5 H487.5 Z" fill="#fdfdfd" stroke="#777" stroke-width="1"/>
<path d="M492 3.5 Q490 3.5 490.5 6 V11 M489 6.5h3" fill="none" stroke="#444" stroke-width="0.9"/>
<path d="M494 6.5 h3 v3.5 h3.5 v3 H497 v3.5 h-3 V13 H491 v-3 H494 Z" fill="url(#gplus)" stroke="#0a8a0a" stroke-width="1"/>
<path d="M509 7 H514.5 L511.75 10 Z" fill="#000"/>
<!-- clock -->
<circle cx="533" cy="8" r="7.2" fill="#1a6ad8"/>
<circle cx="533" cy="8" r="5.2" fill="#f4f4f4"/>
<path d="M532.5 4 V8.5 H535.5" fill="none" stroke="#333" stroke-width="1"/>
<path d="M548 7 H553.5 L550.75 10 Z" fill="#000"/>
<!-- templates -->
<rect x="564.5" y="1.5" width="15" height="13" fill="#fafcff" stroke="#3a78c8" stroke-width="1"/>
<rect x="565" y="2" width="14" height="1.5" fill="#5a98e0"/>
<rect x="565" y="8" width="14" height="1" fill="#3a78c8"/>
<path d="M566 6.5 L568.5 6 L570.5 5.5 L572.5 6 L575 5 L578 5.5" fill="none" stroke="#a02000" stroke-width="1"/>
<path d="M566 12 L568.5 11.5 L570 11 L572 12 L575 10.5 L578 12" fill="none" stroke="#20a020" stroke-width="1"/>
<path d="M587 7 H592.5 L589.75 10 Z" fill="#000"/>

<!-- cursor -->
<path d="M616 1 L624 8.5 L621 9 L623 14.5 L620.5 15.5 L618.7 10.3 L616 12.5 Z" fill="#505050"/>
<!-- crosshair -->
<g fill="#444" shape-rendering="crispEdges">
 <rect x="641" y="8" width="6" height="1"/><rect x="650" y="8" width="6" height="1"/>
 <rect x="648" y="1" width="1" height="6"/><rect x="648" y="10" width="1" height="6"/>
 <rect x="648" y="8" width="1" height="1" fill="#999"/>
 <rect x="682" y="2" width="1" height="13"/>
 <rect x="705" y="8" width="12" height="1"/>
</g>
<line x1="733" y1="14.5" x2="745" y2="3" stroke="#555" stroke-width="1"/>
<!-- channel E -->
<g stroke="#444" stroke-width="1" fill="none">
 <path d="M759 9 L769 1 M760 13 L771 4 M761 6 l1 2 M764 4 l1 2 M767 2 l1 2 M762 10 l1 2 M765 8 l1 2 M768 6 l1 2"/>
</g>
<text x="769.5" y="16.5" style="font-family:'Liberation Sans',sans-serif;font-size:6.5px;font-weight:bold" fill="#444">E</text>
<!-- fibo F -->
<g fill="#555" shape-rendering="crispEdges">
 <rect x="788" y="1" width="1" height="1"/><rect x="790" y="1" width="1" height="1"/><rect x="792" y="1" width="1" height="1"/><rect x="794" y="1" width="1" height="1"/><rect x="796" y="1" width="1" height="1"/><rect x="798" y="1" width="1" height="1"/><rect x="800" y="1" width="1" height="1"/>
 <rect x="788" y="5" width="1" height="1"/><rect x="790" y="5" width="1" height="1"/><rect x="792" y="5" width="1" height="1"/><rect x="794" y="5" width="1" height="1"/><rect x="796" y="5" width="1" height="1"/><rect x="798" y="5" width="1" height="1"/><rect x="800" y="5" width="1" height="1"/>
 <rect x="788" y="8" width="1" height="1"/><rect x="790" y="8" width="1" height="1"/><rect x="792" y="8" width="1" height="1"/><rect x="794" y="8" width="1" height="1"/><rect x="796" y="8" width="1" height="1"/><rect x="798" y="8" width="1" height="1"/><rect x="800" y="8" width="1" height="1"/>
 <rect x="788" y="12" width="1" height="1"/><rect x="790" y="12" width="1" height="1"/><rect x="792" y="12" width="1" height="1"/><rect x="794" y="12" width="1" height="1"/><rect x="796" y="12" width="1" height="1"/>
</g>
<text x="797.5" y="16.8" style="font-family:'Liberation Sans',sans-serif;font-size:6.5px;font-weight:bold" fill="#444">F</text>
<!-- A -->
<text x="818" y="12.8" style="font-family:'Liberation Sans',sans-serif;font-size:11.5px;font-weight:bold" fill="#555">A</text>
<!-- T label -->
<rect x="844.5" y="1.5" width="12" height="13" fill="none" stroke="#666" stroke-width="1" stroke-dasharray="1,1"/>
<text x="846.3" y="12.6" style="font-family:'Liberation Sans',sans-serif;font-size:11px;font-weight:bold" fill="#555">T</text>
<!-- arrows -->
<path d="M875 2 L878 4.5 L875 7 L872 4.5 Z M883 9 L886 11.5 L883 14 L880 11.5 Z" fill="#555"/>
<path d="M874.5 8.5 L876.5 10.5 L880 7" fill="none" stroke="#555" stroke-width="1.2"/>
<path d="M892.5 6.5 H898 L895.25 9.5 Z" fill="#000"/>

<!-- periods -->
<g style="font-family:'Liberation Sans',sans-serif;font-size:10px" fill="#333">
 <text x="919.5" y="12">M1</text>
 <text x="947.5" y="12">M5</text>
 <text x="973.5" y="12">M15</text>
 <text x="1001" y="12">M30</text>
 <text x="1032" y="12">H1</text>
 <text x="1059" y="12">H4</text>
 <text x="1088" y="12">D1</text>
 <text x="1115" y="12">W1</text>
 <text x="1142" y="12">MN</text>
</g>

<!-- search -->
<line x1="1628.5" y1="12.5" x2="1632.5" y2="8.5" stroke="#2a60d0" stroke-width="2.4"/>
<circle cx="1635.4" cy="5.4" r="3.8" fill="#f4f4ff" stroke="#2a68d8" stroke-width="1.3"/>
<!-- chat bubble + badge -->
<path d="M1657.5 5.5 Q1652.5 6 1652.5 10.5 Q1652.5 14.5 1656 14.5 L1655.5 16.5 L1658.5 14.5 L1662 14.5 Q1663.5 12 1663 8 Z" fill="#e4e6ee" stroke="#9a9a9a" stroke-width="1"/>
<circle cx="1666.4" cy="5.6" r="8.2" fill="#dc3418"/>
<path d="M1663.5 3 L1665.5 1.5 V10" fill="none" stroke="#fff" stroke-width="1.4"/>
</svg>

</body></html>
